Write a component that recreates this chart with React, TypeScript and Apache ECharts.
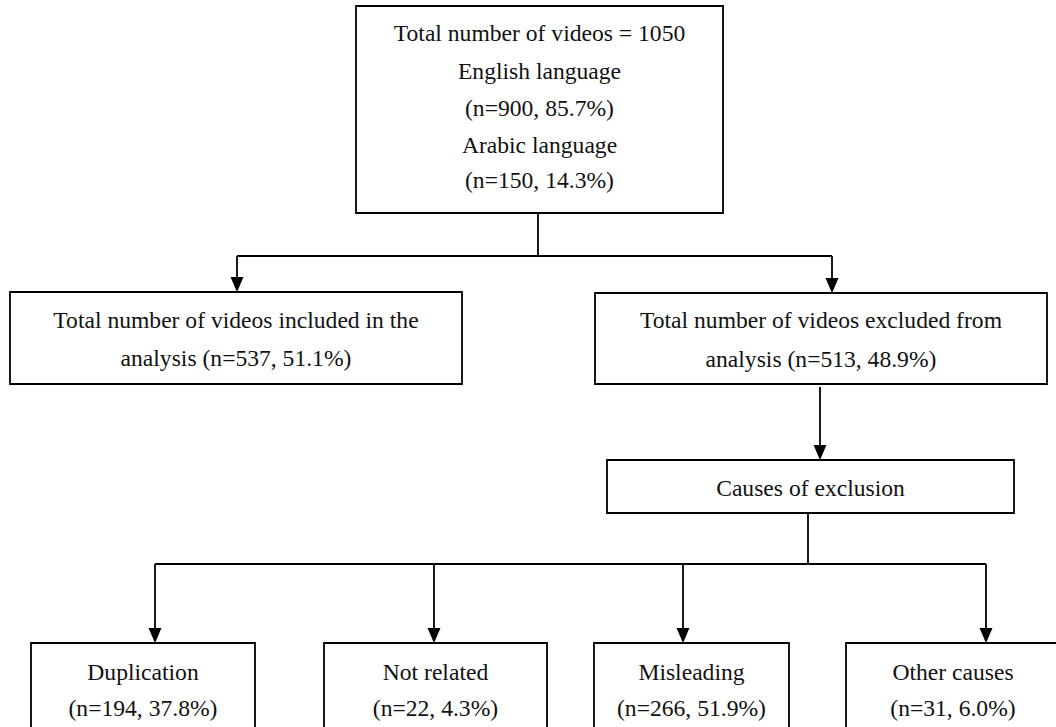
import React, { useEffect, useRef } from "react";
import * as echarts from "echarts";

// ---- Data ----
const totalVideos = 1050;
const languageNames = ["English language", "Arabic language"];
const languageCounts = [900, 150];
const languagePercents = [85.7, 14.3];

const splitLines = [
  ["Total number of videos included in the", "analysis"],
  ["Total number of videos excluded from", "analysis"],
];
const splitCounts = [537, 513];
const splitPercents = [51.1, 48.9];

const causesTitle = "Causes of exclusion";
const causeNames = ["Duplication", "Not related", "Misleading", "Other causes"];
const causeCounts = [194, 22, 266, 31];
const causePercents = [37.8, 4.3, 51.9, 6.0];

// ---- Layout (positions / styles) ----
const FONT_FAMILY = "Liberation Serif";
const FONT_SIZE = 23.6;
const TEXT_COLOR = "#111";
const LINE = "#000";
const LW = 1.8;

const topBox = { x: 356, y: 6, w: 367, h: 207 };
const topLineYs = [33, 71, 108, 145, 180];
const splitBoxes = [
  { x: 10, y: 292, w: 452, h: 92, lineYs: [320, 358] },
  { x: 595, y: 293, w: 452, h: 91, lineYs: [320, 359] },
];
const splitArrowXs = [237, 832];
const branchY1 = 256;
const causesBox = { x: 607, y: 460, w: 407, h: 53 };
const causeBoxes = [
  { x: 31, w: 224 },
  { x: 324, w: 223 },
  { x: 594, w: 195 },
  { x: 846, w: 214 },
];
const causeArrowXs = [155, 434, 683, 986];
const causeBoxTop = 643;
const causeBoxBottom = 760;
const causeLineYs = [672, 708];
const branchY2 = 564;

const fmt = (n: number, p: number) => `(n=${n}, ${p.toFixed(1)}%)`;

function text(str: string, x: number, y: number) {
  return {
    type: "text",
    z: 10,
    style: {
      text: str,
      x,
      y,
      fontFamily: FONT_FAMILY,
      fontSize: FONT_SIZE,
      fill: TEXT_COLOR,
      align: "center",
      verticalAlign: "middle",
      textAlign: "center",
      textVerticalAlign: "middle",
    },
  };
}
function rect(x: number, y: number, w: number, h: number) {
  return {
    type: "rect",
    z: 5,
    shape: { x, y, width: w, height: h },
    style: { fill: "#fff", stroke: LINE, lineWidth: LW },
  };
}
function line(x1: number, y1: number, x2: number, y2: number) {
  return {
    type: "line",
    z: 4,
    shape: { x1, y1, x2, y2 },
    style: { stroke: LINE, lineWidth: LW },
  };
}
function arrowHead(x: number, tipY: number) {
  return {
    type: "polygon",
    z: 6,
    shape: {
      points: [
        [x - 6.5, tipY - 15],
        [x + 6.5, tipY - 15],
        [x, tipY],
      ],
    },
    style: { fill: LINE },
  };
}
function arrow(x: number, y1: number, tipY: number) {
  return [line(x, y1, x, tipY - 8), arrowHead(x, tipY)];
}

export default function App() {
  const ref = useRef<HTMLDivElement>(null);
  useEffect(() => {
    document.body.style.margin = "0";
    if (!ref.current) return;
    const chart = echarts.init(ref.current, undefined, { renderer: "svg" });

    const els: any[] = [];
    els.push(rect(topBox.x, topBox.y, topBox.w, topBox.h));
    const cx = topBox.x + topBox.w / 2;
    const topTexts = [
      `Total number of videos = ${totalVideos}`,
      languageNames[0],
      fmt(languageCounts[0], languagePercents[0]),
      languageNames[1],
      fmt(languageCounts[1], languagePercents[1]),
    ];
    topTexts.forEach((t, i) => els.push(text(t, cx, topLineYs[i])));

    els.push(line(538, topBox.y + topBox.h, 538, branchY1));
    els.push(line(splitArrowXs[0], branchY1, splitArrowXs[1], branchY1));
    splitArrowXs.forEach((x, i) => els.push(...arrow(x, branchY1, splitBoxes[i].y)));

    splitBoxes.forEach((b, i) => {
      els.push(rect(b.x, b.y, b.w, b.h));
      const bx = b.x + b.w / 2;
      els.push(text(splitLines[i][0], bx, b.lineYs[0]));
      els.push(text(`${splitLines[i][1]} ${fmt(splitCounts[i], splitPercents[i])}`, bx, b.lineYs[1]));
    });

    els.push(...arrow(820, splitBoxes[1].y + splitBoxes[1].h + 3, causesBox.y));
    els.push(rect(causesBox.x, causesBox.y, causesBox.w, causesBox.h));
    els.push(text(causesTitle, causesBox.x + causesBox.w / 2, causesBox.y + causesBox.h / 2 + 1));

    els.push(line(808, causesBox.y + causesBox.h, 808, branchY2));
    els.push(line(causeArrowXs[0], branchY2, causeArrowXs[3], branchY2));
    causeArrowXs.forEach((x) => els.push(...arrow(x, branchY2, causeBoxTop)));

    causeBoxes.forEach((b, i) => {
      els.push(rect(b.x, causeBoxTop, b.w, causeBoxBottom - causeBoxTop));
      const bx = b.x + b.w / 2;
      els.push(text(causeNames[i], bx, causeLineYs[0]));
      els.push(text(fmt(causeCounts[i], causePercents[i]), bx, causeLineYs[1]));
    });

    chart.setOption({
      animation: false,
      backgroundColor: "#fff",
      graphic: { elements: els },
    });
    return () => chart.dispose();
  }, []);
  return <div ref={ref} style={{ width: 1056, height: 727 }} />;
}
